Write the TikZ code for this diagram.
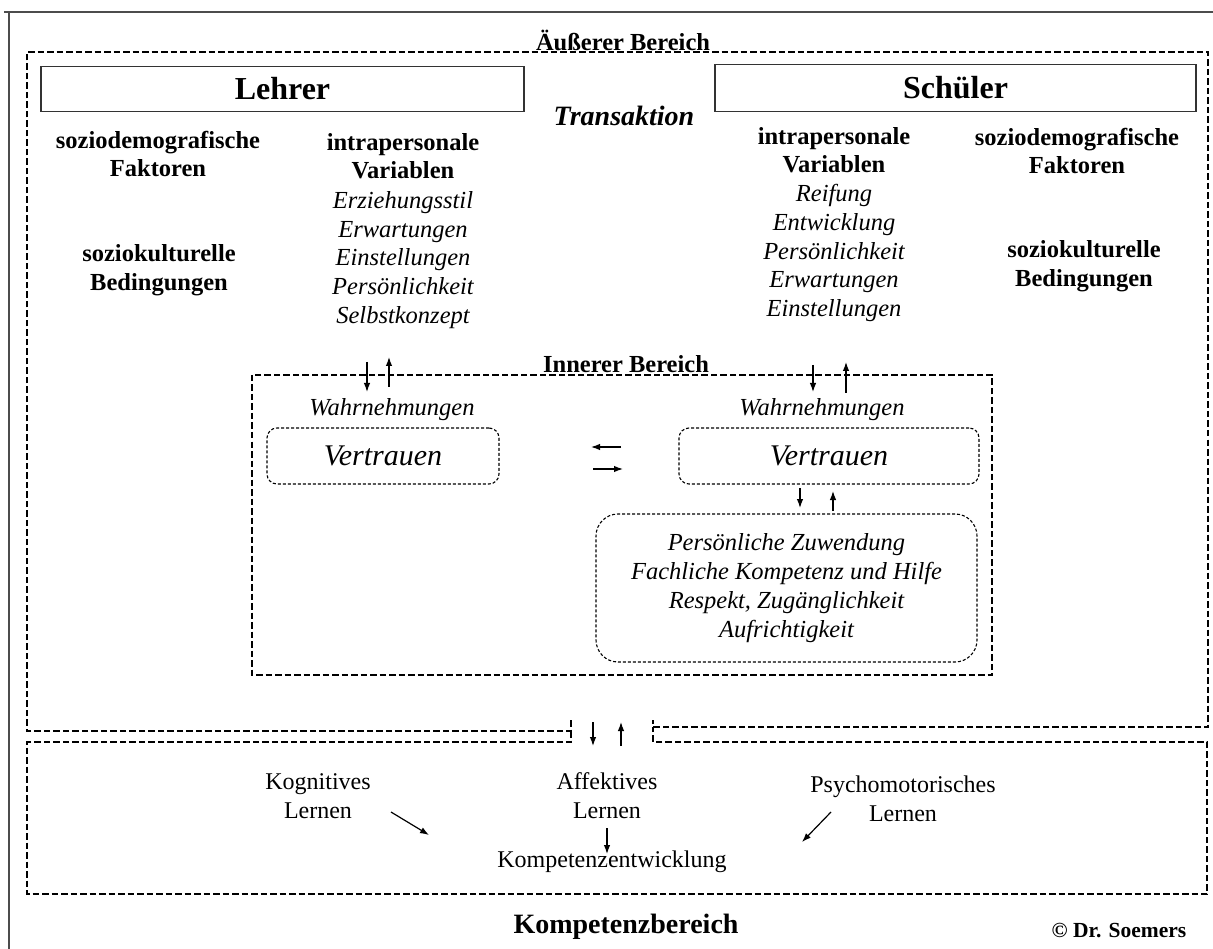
\documentclass[tikz,border=0pt]{standalone}
\usepackage{fontspec}
\setmainfont{Liberation Serif}
\usetikzlibrary{arrows.meta}

\tikzset{
  bereich/.style={line width=2.8pt, dash pattern=on 6.5pt off 3pt},
  kasten/.style={draw, line width=1.1pt, dash pattern=on 3pt off 2pt, rounded corners=10pt},
  kopf/.style={draw, line width=1.4pt, draw=black!80, font=\fontsize{32}{36}\selectfont\bfseries},
  fett/.style={font=\fontsize{24.5}{28.5}\selectfont\bfseries, align=center},
  kursiv/.style={font=\fontsize{24.5}{28.8}\selectfont\itshape, align=center},
  normal/.style={font=\fontsize{24}{29}\selectfont, align=center},
  pfeil/.style={-{Latex[length=9pt,width=6.5pt]}, line width=1.2pt},
}

\begin{document}
\begin{tikzpicture}[x=1pt, y=-1pt]
		%%%%% START %%%%%
		\useasboundingbox (0,0) rectangle (1213,949);
		
		\draw[line width=1.8pt, color=black!70] (4,12) -- (1213,12);
		\draw[line width=1.8pt, color=black!70] (9,12) -- (9,949);
		
		% aeusserer Bereich und Kompetenzbereich
		\draw[bereich] (571,720) -- (571,731) -- (27,731) -- (27,52) -- (1208,52) -- (1208,727) -- (653,727) -- (653,720);
		\draw[bereich] (571,731) -- (571,742) -- (27,742) -- (27,894) -- (1207,894) -- (1207,742) -- (653,742) -- (653,727);
		\node[fett] (aussen) at (623,40) {Äußerer Bereich};
		
		% Lehrer
		\node[kopf, minimum width=483pt, minimum height=45pt] (lehrer) at (282.5,89) {Lehrer};
		\node[fett] (lsozio) at (158,154) {soziodemografische\\Faktoren};
		\node[fett] (lkultur) at (159,270) {soziokulturelle\\Bedingungen};
		\node[fett] (lvar) at (403,156) {intrapersonale\\Variablen};
		\node[kursiv] (lliste) at (403,260) {Erziehungsstil\\Erwartungen\\Einstellungen\\Persönlichkeit\\Selbstkonzept};
		
		\node[font=\fontsize{28}{32}\selectfont\bfseries\itshape] (trans) at (624,116) {Transaktion};
		
		% Schueler
		\node[kopf, minimum width=481pt, minimum height=47pt] (schueler) at (955.5,88) {Schüler};
		\node[fett] (svar) at (834,150) {intrapersonale\\Variablen};
		\node[kursiv] (sliste) at (834,253) {Reifung\\Entwicklung\\Persönlichkeit\\Erwartungen\\Einstellungen};
		\node[fett] (ssozio) at (1077,151) {soziodemografische\\Faktoren};
		\node[fett] (skultur) at (1084,266) {soziokulturelle\\Bedingungen};
		
		% innerer Bereich
		\draw[bereich] (252,375) rectangle (992,675);
		\node[fett] (innen) at (626,364) {Innerer Bereich};
		
		\node[kursiv] (wahrL) at (392,410) {Wahrnehmungen};
		\node[kursiv] (wahrR) at (822,410) {Wahrnehmungen};
		\node[kasten, minimum width=232pt, minimum height=56pt, font=\fontsize{30}{34}\selectfont\itshape] (vertrL) at (383,456) {Vertrauen};
		\node[kasten, minimum width=300pt, minimum height=56pt, font=\fontsize{30}{34}\selectfont\itshape] (vertrR) at (829,456) {Vertrauen};
		\node[kasten, rounded corners=22pt, minimum width=381pt, minimum height=148pt, kursiv] (merkmale) at (786.5,588) {Persönliche Zuwendung\\Fachliche Kompetenz und Hilfe\\Respekt, Zugänglichkeit\\Aufrichtigkeit};
		
		\coordinate (lab1) at (367,362); \coordinate (lab2) at (367,392);
		\coordinate (lauf1) at (389,387); \coordinate (lauf2) at (389,357);
		\coordinate (sab1) at (813,365); \coordinate (sab2) at (813,392);
		\coordinate (sauf1) at (846,393); \coordinate (sauf2) at (846,362);
		\coordinate (links1) at (621,447); \coordinate (links2) at (591,447);
		\coordinate (rechts1) at (593,469); \coordinate (rechts2) at (623,469);
		\coordinate (mab1) at (800,488); \coordinate (mab2) at (800,508);
		\coordinate (mauf1) at (833,511); \coordinate (mauf2) at (833,491);
		\coordinate (kab1) at (593,722); \coordinate (kab2) at (593,746);
		\coordinate (kauf1) at (621,746); \coordinate (kauf2) at (621,722);
		
		\draw[pfeil] (lab1) -- (lab2);
		\draw[pfeil] (lauf1) -- (lauf2);
		\draw[pfeil] (sab1) -- (sab2);
		\draw[pfeil] (sauf1) -- (sauf2);
		\draw[pfeil] (links1) -- (links2);
		\draw[pfeil] (rechts1) -- (rechts2);
		\draw[pfeil] (mab1) -- (mab2);
		\draw[pfeil] (mauf1) -- (mauf2);
		\draw[pfeil] (kab1) -- (kab2);
		\draw[pfeil] (kauf1) -- (kauf2);
		
		% Kompetenzbereich
		\node[normal] (kogn) at (318,796) {Kognitives\\Lernen};
		\node[normal] (affekt) at (607,795.5) {Affektives\\Lernen};
		\node[normal] (psycho) at (903,798.5) {Psychomotorisches\\Lernen};
		\node[normal] (kompetenz) at (612,862) {Kompetenzentwicklung};
		
		\coordinate (kogn1) at (391,812); \coordinate (kogn2) at (429,835);
		\coordinate (affekt1) at (607,828); \coordinate (affekt2) at (607,854);
		\coordinate (psycho1) at (831,812); \coordinate (psycho2) at (802,842);
		\draw[pfeil] (kogn1) -- (kogn2);
		\draw[pfeil] (affekt1) -- (affekt2);
		\draw[pfeil] (psycho1) -- (psycho2);
		
		\node[font=\fontsize{28}{32}\selectfont\bfseries] (bereich) at (626,927) {Kompetenzbereich};
		\node[font=\fontsize{21.5}{25}\selectfont\bfseries] (copy) at (1119,930) {© Dr. Soemers};
		
		%%%%% END %%%%%
	\end{tikzpicture}
\end{document}
